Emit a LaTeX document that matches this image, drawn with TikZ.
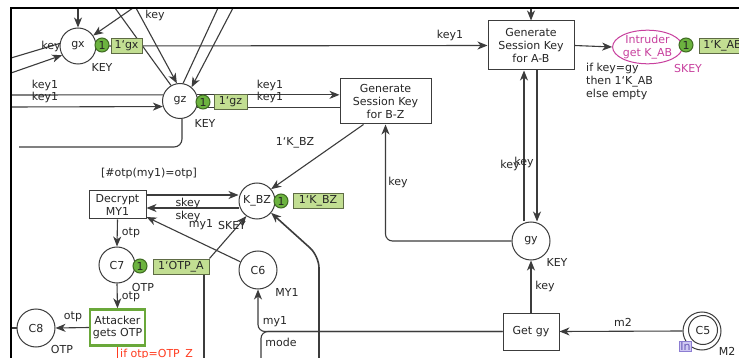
\documentclass[tikz,border=0pt]{standalone}
\usepackage{fontspec}
\setmainfont{DejaVu Sans}
\usetikzlibrary{arrows.meta,shapes.geometric}
\pgfdeclarelayer{paper}
\pgfdeclarelayer{background}
\pgfsetlayers{paper,background,main}
\newcommand\bq{\symbol{96}}
\definecolor{ln}{HTML}{3C3C3C}
\definecolor{txt}{HTML}{262626}
\definecolor{tokfill}{HTML}{6CB33F}
\definecolor{tokline}{HTML}{3F6B22}
\definecolor{markfill}{HTML}{C2DE92}
\definecolor{markline}{HTML}{5E6B45}
\definecolor{intr}{HTML}{C8409E}
\definecolor{attg}{HTML}{6AA83A}
\definecolor{inboxfill}{HTML}{CFC8F2}
\definecolor{inboxline}{HTML}{8C7DD2}
\definecolor{inboxtxt}{HTML}{6A5AB8}
\definecolor{guardred}{HTML}{FF3B1F}
\begin{document}
\begin{tikzpicture}[x=1pt,y=-1pt,
  font=\fontsize{11}{12.8}\selectfont,
  every node/.style={text=txt},
  arc/.style={draw=ln, line width=1.1pt, -{Stealth[length=10pt,width=8pt,inset=3pt]}},
  wire/.style={draw=ln, line width=1.1pt},
  place/.style={circle, draw=ln, line width=1pt, fill=white, inner sep=0pt},
  trans/.style={rectangle, draw=ln, line width=1pt, fill=white, align=center, inner sep=1pt},
  token/.style={circle, draw=tokline, fill=tokfill, line width=1pt, minimum size=14pt, inner sep=0pt},
  markbox/.style={rectangle, draw=markline, fill=markfill, line width=1pt, inner sep=1pt, minimum height=15pt},
  lbl/.style={inner sep=0pt}
]
\useasboundingbox (0,0) rectangle (739,358);
\begin{pgfonlayer}{paper}
\fill[white] (0,0) rectangle (739,358);
\end{pgfonlayer}

% ---------- places ----------
\node[place, minimum size=36pt] (gx) at (78,46) {gx};
\node[token] (gxt) at (102,45) {1};
\node[markbox, minimum width=31pt] (gxm) at (126.5,46) {1\bq gx};
\node[lbl] (gxty) at (102,67) {KEY};

\node[place, minimum size=35pt] (gz) at (180,101) {gz};
\node[token] (gzt) at (203,102) {1};
\node[markbox, minimum width=33pt] (gzm) at (230.5,102) {1\bq gz};
\node[lbl] (gzty) at (205,123) {KEY};

\node[ellipse, draw=intr, fill=white, line width=1pt, minimum width=69pt, minimum height=30pt,
      inner sep=0pt, align=center, text=intr] (intr) at (647.5,47) {Intruder\\get K\_AB};
\node[token] (intrt) at (686,45) {1};
\node[markbox, minimum width=46pt, anchor=west] (intrm) at (699,46) {1\bq K\_AB};
\node[lbl, text=intr] (intrty) at (688,68) {SKEY};

\node[place, minimum size=38pt] (gy) at (531,241) {gy};
\node[lbl] (gyty) at (557,262) {KEY};

\node[place, minimum size=36pt] (kbz) at (257,201) {K\_BZ};
\node[token] (kbzt) at (281,201) {1};
\node[markbox, minimum width=50pt] (kbzm) at (318,201) {1\bq K\_BZ};
\node[lbl] (kbzty) at (232,225) {SKEY};

\node[place, minimum size=36pt] (c7) at (117,265) {C7};
\node[token] (c7t) at (140,266) {1};
\node[markbox, minimum width=56pt] (c7m) at (181,266.5) {1\bq OTP\_A};
\node[lbl] (c7ty) at (143,287) {OTP};

\node[place, minimum size=38pt] (c6) at (258,270) {C6};
\node[lbl] (c6ty) at (287,292) {MY1};

\node[place, minimum size=38pt] (c8) at (36,328) {C8};
\node[lbl] (c8ty) at (62,349) {OTP};

\node[place, minimum size=38pt] (c5) at (702,331) {};
\node[circle, draw=ln, line width=1pt, minimum size=29pt, inner sep=0pt] (c5i) at (703,330) {C5};
\node[fill=inboxfill, draw=inboxline, line width=0.8pt, inner sep=1pt, text=inboxtxt] (c5in) at (685.5,346.5) {In};
\node[lbl] (c5ty) at (727,351) {M2};

% ---------- transitions ----------
\node[trans, minimum width=86pt, minimum height=49pt] (ab) at (531,45.5) {Generate\\Session Key\\for A-B};
\node[lbl, align=left, anchor=north west] (abg) at (586,63) {if key=gy\\then 1\bq K\_AB\\else empty};

\node[trans, minimum width=91pt, minimum height=45pt] (bz) at (385.5,101.5) {Generate\\Session Key\\for B-Z};

\node[trans, minimum width=57pt, minimum height=28pt] (dec) at (117.5,205) {Decrypt\\MY1};
\node[lbl] (decg) at (149,173) {[\#otp(my1)=otp]};

\node[trans, draw=attg, line width=2.4pt, minimum width=55pt, minimum height=36pt, inner sep=0pt] (att) at (117.5,327.5) {Attacker\\gets OTP};
\node[lbl, anchor=west, text=guardred] (attg) at (120,355) {if otp=OTP\_Z};

\node[trans, minimum width=56pt, minimum height=37pt] (getgy) at (531,331.5) {Get gy};

% ---------- loose ends of arcs ----------
\coordinate (tgx) at (78,8);
\coordinate (tk) at (133,8);
\coordinate (tz1) at (115,8);
\coordinate (tz2) at (136,8);
\coordinate (tz3) at (218,8);
\coordinate (tz4) at (233,8);
\coordinate (lk1) at (11,58);
\coordinate (lk2) at (11,73);
\coordinate (lz1) at (11,95);
\coordinate (lz2) at (11,107);
\coordinate (gzl) at (19,147);
\coordinate (tab) at (531,8);
\coordinate (c8l) at (11,328);
\coordinate (c7d) at (204,362);
\coordinate (bot1) at (319,362);
\coordinate (bend1) at (319,256);
\coordinate (modeb) at (261,362);

% ---------- arcs ----------
\begin{pgfonlayer}{background}
\draw[arc] (tgx) -- (gx);
\draw[arc] (tk) -- (gx);
\draw[wire] (gz.120) -- (tz1);
\draw[arc] (tz2) -- (gz.100);
\draw[wire] (gz.80) -- (tz3);
\draw[arc] (tz4) -- (gz.50);
\draw[wire] (gx.172) -- (lk1);
\draw[arc] (lk2) -- (gx.210);
\draw[wire] (gz.160) -- (lz1);
\draw[arc] (lz2) -- (gz.198);
\draw[wire, rounded corners=8pt] ([xshift=2pt]gz.south) |- (gzl);
\draw[arc] (gz.20) -- (gz.20 -| bz.west);
\draw[wire] (gz.340) -- (gz.340 -| bz.west);
\draw[arc] (gx.east) -- (ab.west);
\draw[arc] (tab) -- (ab.north);
\draw[arc] (ab.east) -- (intr.west);
\draw[arc] ([xshift=-7pt]gy.north) -- ([xshift=-7pt]ab.south);
\draw[arc] ([xshift=6pt]ab.south) -- ([xshift=6pt]gy.north);
\draw[arc, rounded corners=7pt] (gy.west) -| (bz.south);
\draw[arc] ([xshift=-22pt]bz.south) -- (kbz.40);
\draw[arc] ([yshift=10pt]dec.east) -- ([yshift=6pt]kbz.west);
\draw[arc] ([yshift=-7pt]kbz.west) -- ([yshift=-3pt]dec.east);
\draw[arc] (c6.155) -- ([yshift=-12pt]dec.east);
\draw[arc] (c7m.north east) -- (kbz.235);
\draw[arc, line width=1.6pt, rounded corners=12pt] (bot1) -- (bend1) -- (kbz.320);
\draw[arc] (dec.south) -- (c7.north);
\draw[arc] (c7.south) -- (att.north);
\draw[arc] (att.west) -- (c8.east);
\draw[wire] (c8.west) -- (c8l);
\draw[wire] (c7d |- c7m.south) -- (c7d);
\draw[draw=guardred, line width=1pt] (att.south) -- ++(0,16);
\draw[arc] (getgy.north) -- (gy.south);
\draw[arc] (c5.west) -- (getgy.east);
\draw[arc, rounded corners=7pt] (getgy.west) -| (c6.south);
\draw[wire, rounded corners=7pt] (modeb) |- (getgy.west);
\end{pgfonlayer}

% ---------- arc inscriptions ----------
\node[lbl] (ikey1) at (51,46) {key};
\node[lbl] (ikey2) at (155,15) {key};
\node[lbl] (ik1a) at (45,85) {key1};
\node[lbl] (ik1b) at (45,97) {key1};
\node[lbl] (ik1c) at (270,85) {key1};
\node[lbl] (ik1d) at (270,97) {key1};
\node[lbl] (ik1e) at (450,35) {key1};
\node[lbl] (ikey3) at (510,165) {key};
\node[lbl] (ikey4) at (524,162) {key};
\node[lbl] (ikey5) at (398,182) {key};
\node[lbl] (ikbz) at (295,143) {1\bq K\_BZ};
\node[lbl] (iskey1) at (188,203) {skey};
\node[lbl] (iskey2) at (188,216) {skey};
\node[lbl] (imy1a) at (201,225) {my1};
\node[lbl] (iotp1) at (131,233) {otp};
\node[lbl] (iotp2) at (131,297) {otp};
\node[lbl] (iotp3) at (73,317) {otp};
\node[lbl] (ikey6) at (545,286) {key};
\node[lbl] (im2) at (623,322) {m2};
\node[lbl] (imy1b) at (275,322) {my1};
\node[lbl] (imode) at (281,342) {mode};

% ---------- page frame ----------
\draw[black, line width=2.2pt] (11,362) -- (11,8) -- (742,8);
\end{tikzpicture}
\end{document}
